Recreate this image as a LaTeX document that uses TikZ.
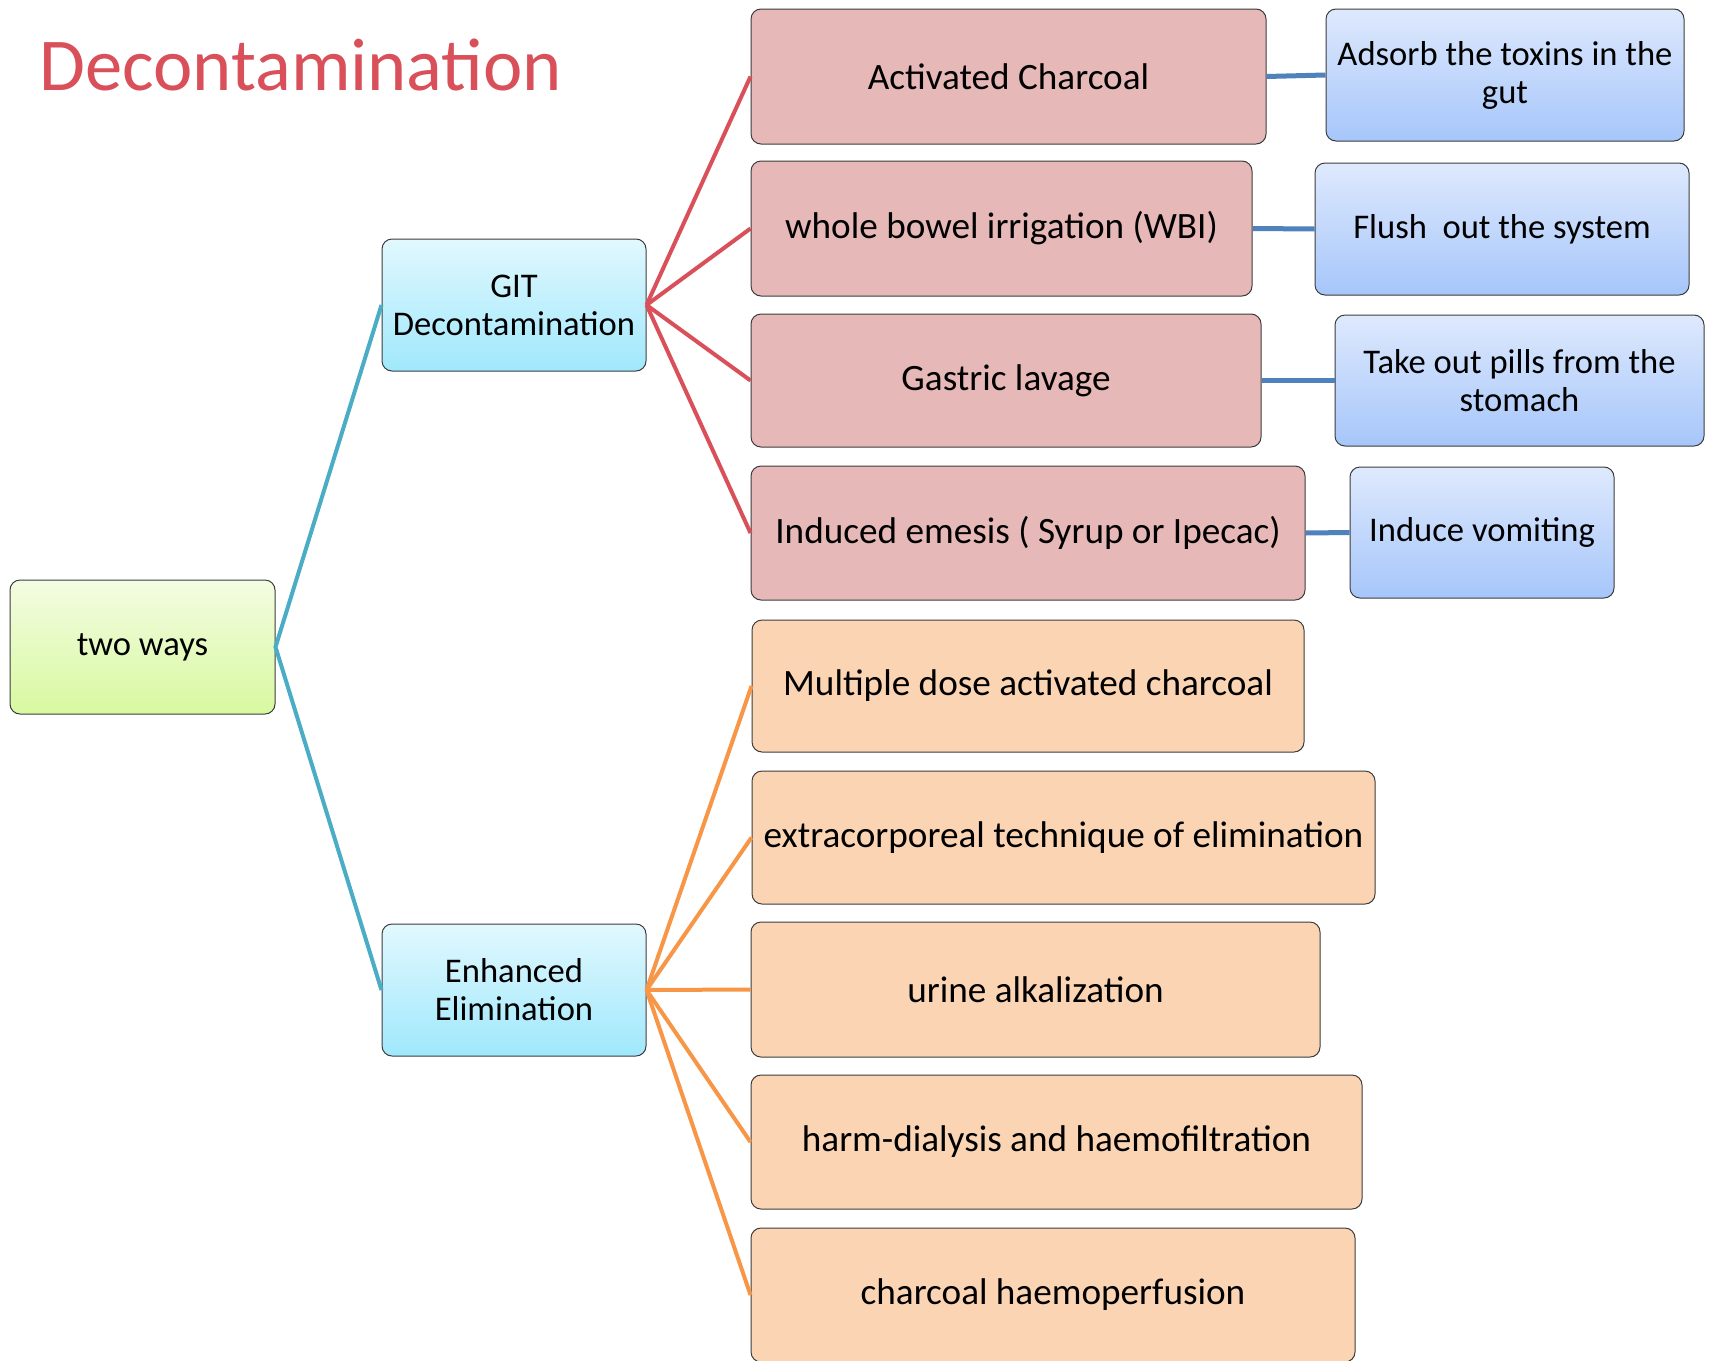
\documentclass[tikz,border=0pt]{standalone}
\usepackage{fontspec}
\setmainfont{Carlito}
\usepackage{xcolor}
\usetikzlibrary{shadings}

\definecolor{titlered}{RGB}{217,80,90}
\definecolor{tealline}{RGB}{75,172,198}
\definecolor{orangeline}{RGB}{247,150,70}
\definecolor{blueline}{RGB}{79,129,189}
\definecolor{pinkfill}{RGB}{230,184,183}
\definecolor{peachfill}{RGB}{251,212,180}
\definecolor{edgegray}{RGB}{60,60,60}

\tikzset{
  box/.style={draw=edgegray, line width=0.5pt, rounded corners=5pt, inner sep=0pt,
    align=center, minimum height=66.5pt, font=\fontsize{18.6}{19}\selectfont},
  smallfont/.style={font=\fontsize{17.3}{19}\selectfont},
  rootbox/.style={box, smallfont, top color={rgb,255:red,243;green,252;blue,226}, bottom color={rgb,255:red,216;green,249;blue,160}},
  branchbox/.style={box, smallfont, top color={rgb,255:red,225;green,248;blue,254}, bottom color={rgb,255:red,160;green,232;blue,252}},
  decobox/.style={box, fill=pinkfill},
  elimbox/.style={box, fill=peachfill},
  notebox/.style={box, smallfont, top color={rgb,255:red,222;green,233;blue,253}, bottom color={rgb,255:red,166;green,198;blue,250}},
  tealedge/.style={draw=tealline, line width=2pt},
  rededge/.style={draw=titlered, line width=2pt},
  orangeedge/.style={draw=orangeline, line width=2pt},
  blueedge/.style={draw=blueline, line width=2.5pt}
}

\begin{document}
\begin{tikzpicture}[x=0.5pt, y=-0.5pt]
\useasboundingbox (0,0) rectangle (1711,1360);

% title
\node[anchor=base west, inner sep=0, text=titlered, font=\fontsize{37.3}{40}\selectfont] (title) at (39,90) {Decontamination};

% left part
\node[rootbox, minimum width=132.5pt, minimum height=67pt] (tw) at (142.5,647) {two ways};
\node[branchbox, minimum width=132pt, minimum height=66pt] (git) at (514,305) {GIT\\Decontamination};
\node[branchbox, minimum width=132pt, minimum height=66pt] (enh) at (514,990) {Enhanced\\Elimination};

% GIT decontamination
\node[decobox, minimum width=257.5pt, minimum height=67.5pt] (ac) at (1008.5,76.5) {Activated Charcoal};
\node[decobox, minimum width=250.5pt, minimum height=67.5pt] (wbi) at (1001.5,228.5) {whole bowel irrigation (WBI)};
\node[decobox, minimum width=255pt] (gl) at (1006,380.5) {Gastric lavage};
\node[decobox, minimum width=277pt, minimum height=67pt] (ie) at (1028,533) {Induced emesis ( Syrup or Ipecac)};

% notes
\node[notebox, minimum width=179pt, minimum height=66pt] (adsorb) at (1505,75) {Adsorb the toxins in the\\gut};
\node[notebox, minimum width=187pt, minimum height=66pt] (flush) at (1502,229) {Flush\ \ out the system};
\node[notebox, minimum width=184.5pt, minimum height=65.5pt] (takeout) at (1519.5,380.5) {Take out pills from the\\stomach};
\node[notebox, minimum width=132pt, minimum height=65.5pt] (vomit) at (1482,532.5) {Induce vomiting};

% enhanced elimination
\node[elimbox, minimum width=276pt, minimum height=66pt] (md) at (1028,686) {Multiple dose activated charcoal};
\node[elimbox, minimum width=311.5pt] (ex) at (1063.5,837.5) {extracorporeal technique of elimination};
\node[elimbox, minimum width=284.5pt, minimum height=67.5pt] (ua) at (1035.5,989.5) {urine alkalization};
\node[elimbox, minimum width=305.5pt, minimum height=67pt] (hd) at (1056.5,1142) {harm-dialysis and haemofiltration};
\node[elimbox, minimum width=302pt, minimum height=67pt] (ch) at (1053,1295) {charcoal haemoperfusion};

% connectors
\draw[tealedge] (git.west) -- (tw.east) -- (enh.west);
\foreach \n in {ac,wbi,gl,ie}
  \draw[rededge] (git.east) -- (\n.west);
\foreach \n in {md,ex,ua,hd,ch}
  \draw[orangeedge] (enh.east) -- (\n.west);
\draw[blueedge] (ac.east) -- (adsorb.west);
\draw[blueedge] (wbi.east) -- (flush.west);
\draw[blueedge] (gl.east) -- (takeout.west);
\draw[blueedge] (ie.east) -- (vomit.west);
\end{tikzpicture}
\end{document}
